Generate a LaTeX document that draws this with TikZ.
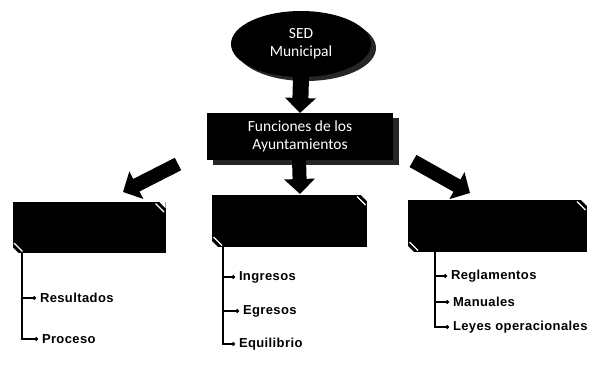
\documentclass[tikz,border=0pt]{standalone}
\usepackage{fontspec}
\setmainfont{Liberation Sans}
\newfontfamily\calib{Carlito}
\usetikzlibrary{arrows.meta,shapes.geometric,calc}
\begin{document}
\begin{tikzpicture}[x=1pt,y=-1pt,
  blk/.style={fill=black,draw=none,inner sep=0,outer sep=0},
  shad/.style={fill=black!85,draw=none,inner sep=0,outer sep=0},
  barrow/.style={line width=#1,draw=black,-{Triangle[width=30pt,length=15pt]}},
  itemtxt/.style={font=\bfseries\fontsize{13}{15}\selectfont\addfontfeature{LetterSpace=3},anchor=west,inner sep=0,outer sep=0},
  hookline/.style={line width=1.4pt,-{Circle[length=3.5pt]}},
  wtxt/.style={text=white,font=\calib\fontsize{15.5}{18}\selectfont,align=center}
]
\useasboundingbox[fill=white] (0,0) rectangle (594,365);

% ellipse with shadow
\node[shad,ellipse,minimum width=140pt,minimum height=66pt] at (306,48) {};
\node[blk,ellipse,minimum width=140pt,minimum height=66pt,wtxt] (ell) at (301,44) {SED\\Municipal};

% Funciones box
\node[shad,minimum width=186pt,minimum height=47pt] at (306,141) {};
\node[blk,minimum width=186pt,minimum height=47pt,wtxt] (fun) at (300,136.5) {Funciones de los\\Ayuntamientos};

% three boxes
\node[blk,minimum width=153pt,minimum height=51pt] (lb) at (89,227.5) {};
\node[blk,minimum width=155pt,minimum height=52pt] (mb) at (289.5,221) {};
\node[blk,minimum width=179pt,minimum height=52pt] (rb) at (497.5,226) {};

\foreach \b in {lb,mb,rb}{
  \fill[white] ($(\b.north east)+(-6,0)$) -- (\b.north east) -- ($(\b.north east)+(0,6)$) -- cycle;
  \fill[white] ($(\b.south west)+(0,-6)$) -- (\b.south west) -- ($(\b.south west)+(6,0)$) -- cycle;
  \draw[white,line width=1.2pt] ($(\b.north east)+(-10,1.5)$) -- ($(\b.north east)+(-1.5,10)$);
  \draw[white,line width=1.2pt] ($(\b.south west)+(1.5,-10)$) -- ($(\b.south west)+(10,-1.5)$);
}

% block arrows
\coordinate (la0) at (178,164);
\coordinate (la1) at (123,192);
\coordinate (ma0) at (299,159);
\coordinate (ma1) at (300,194);
\coordinate (ra0) at (413,161);
\coordinate (ra1) at (470,193);
\draw[barrow=16pt] (ell.south) -- (fun.north);
\draw[barrow=14pt] (la0) -- (la1);
\draw[barrow=14pt] (ma0) -- (ma1);
\draw[barrow=14pt] (ra0) -- (ra1);

% sub items
\coordinate (lt) at (22,253);
\coordinate (mt) at (223,247);
\coordinate (rt) at (435,252);

\node[itemtxt] (res) at (40,298) {Resultados};
\node[itemtxt] (pro) at (42,339) {Proceso};
\node[itemtxt] (ing) at (239,277) {Ingresos};
\node[itemtxt] (egr) at (243,311) {Egresos};
\node[itemtxt] (equ) at (239,344) {Equilibrio};
\node[itemtxt] (reg) at (451,276) {Reglamentos};
\node[itemtxt] (man) at (453,302) {Manuales};
\node[itemtxt] (ley) at (453,327) {Leyes operacionales};

\foreach \t/\i in {lt/res,lt/pro,mt/ing,mt/egr,mt/equ,rt/reg,rt/man,rt/ley}{
  \draw[hookline] (\t) |- ($(\i.west)+(-4,0)$);
}
\end{tikzpicture}
\end{document}
